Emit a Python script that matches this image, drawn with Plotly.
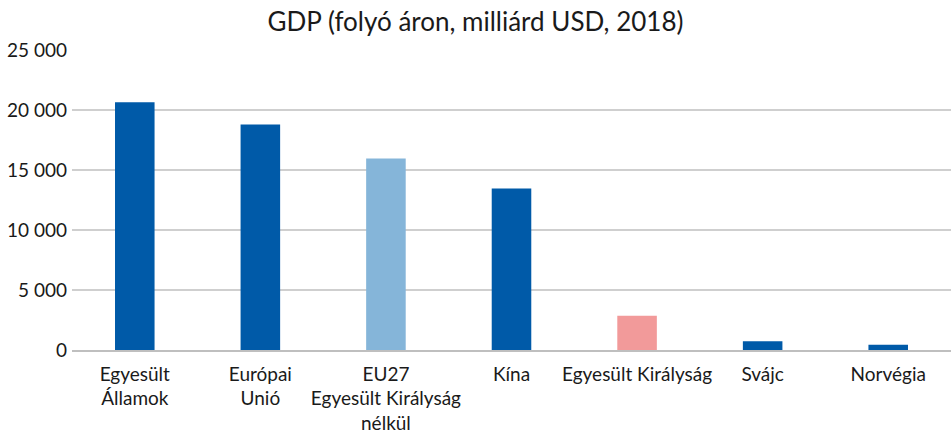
import plotly.graph_objects as go

categories = ["Egyesült<br>Államok", "Európai<br>Unió", "EU27<br>Egyesült Királyság<br>nélkül",
              "Kína", "Egyesült Királyság", "Svájc", "Norvégia"]
values = [20640, 18800, 15950, 13450, 2850, 720, 440]
colors = ["#005AA8", "#005AA8", "#85B5D9", "#005AA8", "#F29A9A", "#005AA8", "#005AA8"]
tick_vals = [0, 5000, 10000, 15000, 20000, 25000]
tick_text = ["0", "5 000", "10 000", "15 000", "20 000", "25 000"]

font_family = "Lato, Open Sans, sans-serif"

fig = go.Figure(go.Bar(
    x=categories, y=values,
    marker=dict(color=colors, line=dict(width=0)),
    hoverinfo="skip",
))

fig.update_layout(
    width=951, height=436,
    paper_bgcolor="white", plot_bgcolor="white",
    margin=dict(l=72, r=0, t=50, b=86),
    bargap=0.685,
    showlegend=False,
    title=dict(text="GDP (folyó áron, milliárd USD, 2018)", x=0.5, xanchor="center",
               y=0.95, yanchor="middle",
               font=dict(family=font_family, size=26, color="#1a1a1a")),
    font=dict(family=font_family, size=19, color="#1a1a1a"),
)
fig.update_yaxes(range=[0, 25000], tickvals=tick_vals, ticktext=tick_text,
                 showgrid=True, gridcolor="#CFCFCF", gridwidth=1.5,
                 zeroline=False, showline=False, ticks="", ticklabelstandoff=4,
                 tickfont=dict(size=19))
fig.update_xaxes(showline=True, linecolor="#BFBFBF", linewidth=1.5, ticks="",
                 tickfont=dict(size=19), tickangle=0, ticklabelstandoff=6)

fig.write_html("out.html")
